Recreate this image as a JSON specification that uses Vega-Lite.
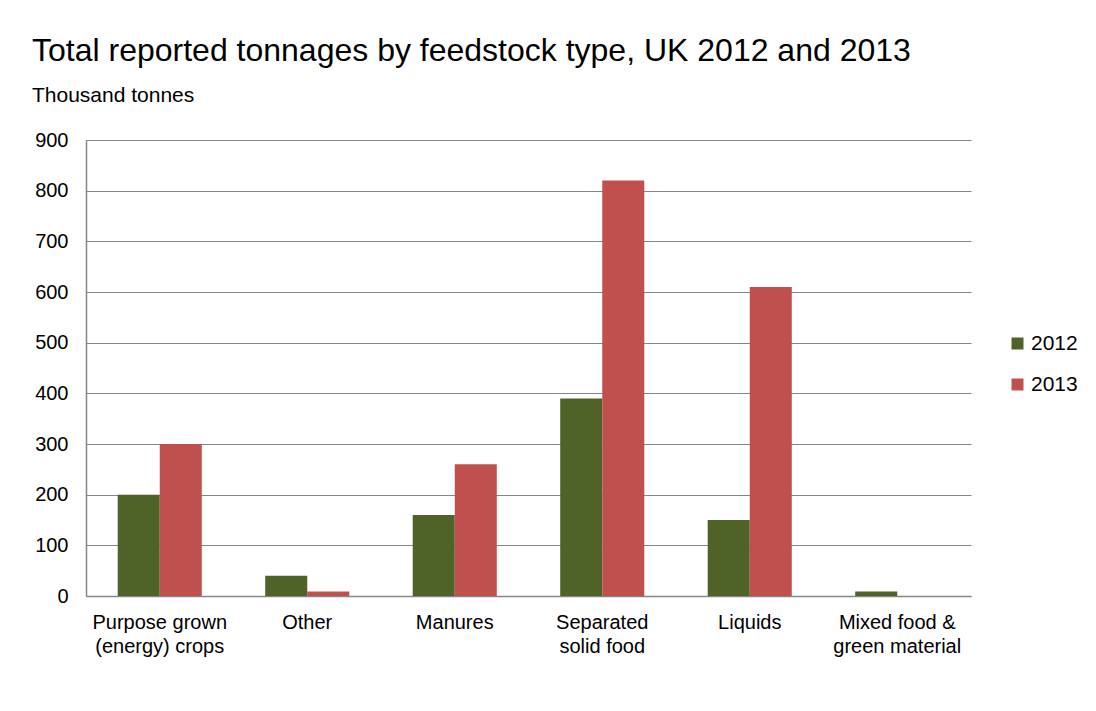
{
  "$schema": "https://vega.github.io/schema/vega-lite/v6.json",
  "width": 885,
  "height": 456,
  "autosize": {"type": "none"},
  "padding": {"left": 86, "top": 140, "right": 125, "bottom": 115},
  "background": "white",
  "title": {
    "text": "Total reported tonnages by feedstock type, UK 2012 and 2013",
    "subtitle": "Thousand tonnes",
    "anchor": "start",
    "frame": "group",
    "dx": -54,
    "offset": 23,
    "font": "Liberation Sans",
    "fontSize": 32,
    "fontWeight": "normal",
    "color": "#000000",
    "subtitleFont": "Liberation Sans",
    "subtitleFontSize": 21,
    "subtitleColor": "#000000",
    "subtitlePadding": 17
  },
  "data": {
    "values": [
      {"feedstock": "Purpose grown (energy) crops", "year": "2012", "tonnes": 200},
      {"feedstock": "Purpose grown (energy) crops", "year": "2013", "tonnes": 300},
      {"feedstock": "Other", "year": "2012", "tonnes": 40},
      {"feedstock": "Other", "year": "2013", "tonnes": 9},
      {"feedstock": "Manures", "year": "2012", "tonnes": 160},
      {"feedstock": "Manures", "year": "2013", "tonnes": 260},
      {"feedstock": "Separated solid food", "year": "2012", "tonnes": 390},
      {"feedstock": "Separated solid food", "year": "2013", "tonnes": 820},
      {"feedstock": "Liquids", "year": "2012", "tonnes": 150},
      {"feedstock": "Liquids", "year": "2013", "tonnes": 610},
      {"feedstock": "Mixed food & green material", "year": "2012", "tonnes": 9},
      {"feedstock": "Mixed food & green material", "year": "2013", "tonnes": 0}
    ]
  },
  "mark": {"type": "bar"},
  "encoding": {
    "x": {
      "field": "feedstock",
      "type": "nominal",
      "sort": null,
      "scale": {"paddingInner": 0.43, "paddingOuter": 0.215},
      "axis": {
        "title": null,
        "labelAngle": 0,
        "ticks": false,
        "labelPadding": 16,
        "labelFont": "Liberation Sans",
        "labelFontSize": 20,
        "labelColor": "#000000",
        "labelLineHeight": 24,
        "labelBaseline": "top",
        "domainColor": "#868686",
        "domainWidth": 1.5,
        "labelExpr": "datum.value == 'Purpose grown (energy) crops' ? ['Purpose grown', '(energy) crops'] : datum.value == 'Separated solid food' ? ['Separated', 'solid food'] : datum.value == 'Mixed food & green material' ? ['Mixed food &', 'green material'] : datum.value"
      }
    },
    "xOffset": {"field": "year", "type": "nominal", "scale": {"paddingInner": 0, "paddingOuter": 0}},
    "y": {
      "field": "tonnes",
      "type": "quantitative",
      "scale": {"domain": [0, 900], "nice": false},
      "axis": {
        "title": null,
        "values": [0, 100, 200, 300, 400, 500, 600, 700, 800, 900],
        "ticks": false,
        "labelPadding": 18,
        "labelFont": "Liberation Sans",
        "labelFontSize": 20,
        "labelColor": "#000000",
        "grid": true,
        "gridColor": "#868686",
        "gridWidth": 1,
        "domainColor": "#868686",
        "domainWidth": 1.5
      }
    },
    "color": {
      "field": "year",
      "type": "nominal",
      "scale": {"domain": ["2012", "2013"], "range": ["#4F6228", "#C0504D"]},
      "legend": {
        "title": null,
        "orient": "none",
        "legendX": 921,
        "legendY": 193,
        "symbolType": "square",
        "symbolSize": 144,
        "symbolStrokeWidth": 0,
        "labelFont": "Liberation Sans",
        "labelFontSize": 21,
        "labelColor": "#000000",
        "labelOffset": 3,
        "rowPadding": 19
      }
    }
  },
  "config": {
    "view": {"stroke": null},
    "bar": {"stroke": null}
  }
}
